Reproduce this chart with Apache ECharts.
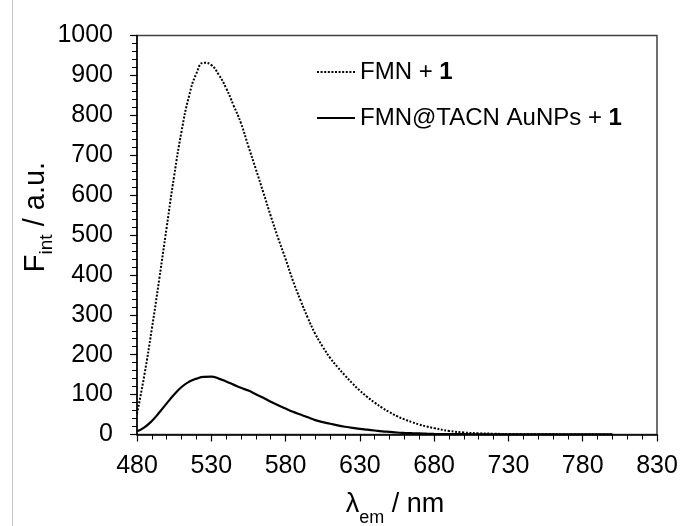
<!DOCTYPE html>
<html>
<head>
<meta charset="utf-8">
<script src="https://cdn.jsdelivr.net/npm/echarts@6/dist/echarts.min.js"></script>
<style>
  html, body { margin: 0; padding: 0; background: #fff; }
  #chart { width: 683px; height: 526px; }
</style>
</head>
<body>
<div id="chart"></div>
<script>
// emission wavelength (nm)
const wavelengths = [480, 485, 490, 495, 500, 505, 510, 515, 520, 525, 530, 535, 540, 545, 550, 555, 560, 565, 570, 575, 580, 585, 590, 595, 600, 605, 610, 615, 620, 625, 630, 635, 640, 645, 650, 655, 660, 665, 670, 675, 680, 690, 700, 710, 720, 730, 750, 775, 800]

// FMN + 1 (dotted)
const fmnFree = [52, 150, 265, 390, 520, 648, 760, 848, 905, 932, 926, 902, 868, 825, 780, 722, 665, 607, 548, 492, 440, 385, 337, 292, 252, 220, 192, 169, 148, 128, 110, 94, 80, 67, 56, 46, 38, 31, 25, 20, 16, 9, 5, 3, 2, 1, 0.5, 0.2, 0]

// FMN@TACN AuNPs + 1 (solid)
const fmnNps = [8, 18, 34, 55, 78, 100, 119, 132, 140, 144.5, 145, 140, 133, 125, 117, 110, 101, 92, 82, 73, 65, 57, 50, 43, 36, 31, 27, 23, 19.5, 16.5, 14, 12, 10, 8, 6.5, 5, 4, 3.2, 2.6, 2, 1.6, 1.1, 0.8, 0.6, 0.5, 0.4, 0.3, 0.3, 0.3]

const seriesNames = ['FMN + 1', 'FMN@TACN AuNPs + 1']

const xTicks = { min: 480, max: 830, interval: 50 }
const yTicks = { min: 0, max: 1000, interval: 100 }

const font = "'Liberation Sans', Arial, sans-serif"

const toPairs = (ys) => wavelengths.map((x, i) => [x, ys[i]])

const chart = echarts.init(document.getElementById('chart'))

const axisCommon = {
  type: 'value',
  axisLine: { show: true, lineStyle: { color: '#000', width: 1.5 } },
  axisTick: { show: true, inside: false, length: 7, lineStyle: { color: '#000', width: 1.2 } },
  minorTick: { show: true, splitNumber: 5, length: 5, lineStyle: { color: '#000', width: 1 } },
  splitLine: { show: false },
  axisLabel: { color: '#000', fontSize: 25, fontFamily: font, formatter: (v) => String(v) }
}

chart.setOption({
  animation: false,
  backgroundColor: '#fff',
  grid: {
    left: 137,
    right: 26,
    top: 35.5,
    bottom: 91.5,
    show: true,
    borderColor: '#404040',
    borderWidth: 1.5
  },
  legend: {
    orient: 'vertical',
    left: 311,
    top: 55,
    itemWidth: 38,
    itemHeight: 14,
    itemGap: 22,
    data: seriesNames,
    itemStyle: { color: 'transparent', borderColor: 'transparent', borderWidth: 0, opacity: 0 },
    formatter: (name) => `{n|${name.slice(0, -1)}}{b|1}`,
    textStyle: {
      color: '#000',
      fontFamily: font,
      rich: {
        n: { fontSize: 24, fontFamily: font, color: '#000' },
        b: { fontSize: 24, fontFamily: font, color: '#000', fontWeight: 'bold' }
      }
    }
  },
  xAxis: {
    ...axisCommon,
    min: xTicks.min,
    max: xTicks.max,
    interval: xTicks.interval,
    axisLabel: { ...axisCommon.axisLabel, margin: 19 }
  },
  yAxis: {
    ...axisCommon,
    min: yTicks.min,
    max: yTicks.max,
    interval: yTicks.interval,
    axisLabel: { ...axisCommon.axisLabel, margin: 24 }
  },
  graphic: [
    {
      type: 'line',
      shape: { x1: 12.5, y1: 0, x2: 12.5, y2: 526 },
      style: { stroke: '#c8c8c8', lineWidth: 1 }
    },
    {
      type: 'text',
      x: 395,
      y: 505,
      style: {
        text: '{a|λ}{s|em}{a| / nm}',
        align: 'center',
        verticalAlign: 'middle',
        fill: '#000',
        rich: {
          a: { fontSize: 27, fontFamily: font, lineHeight: 44, fill: '#000' },
          s: { fontSize: 18, fontFamily: font, lineHeight: 18, verticalAlign: 'bottom', fill: '#000' }
        }
      }
    },
    {
      type: 'text',
      x: 36,
      y: 217,
      rotation: Math.PI / 2,
      style: {
        text: '{a|F}{s|int}{a| / a.u.}',
        align: 'center',
        verticalAlign: 'middle',
        fill: '#000',
        rich: {
          a: { fontSize: 29, fontFamily: font, lineHeight: 40, fill: '#000' },
          s: { fontSize: 19, fontFamily: font, lineHeight: 19, verticalAlign: 'bottom', fill: '#000' }
        }
      }
    }
  ],
  series: [
    {
      name: seriesNames[0],
      type: 'line',
      smooth: true,
      symbol: 'none',
      data: toPairs(fmnFree),
      lineStyle: { color: '#000', width: 2, type: [2, 1.6] },
      itemStyle: { color: '#000' }
    },
    {
      name: seriesNames[1],
      type: 'line',
      smooth: true,
      symbol: 'none',
      data: toPairs(fmnNps),
      lineStyle: { color: '#000', width: 2.2 },
      itemStyle: { color: '#000' }
    }
  ]
})
</script>
</body>
</html>
